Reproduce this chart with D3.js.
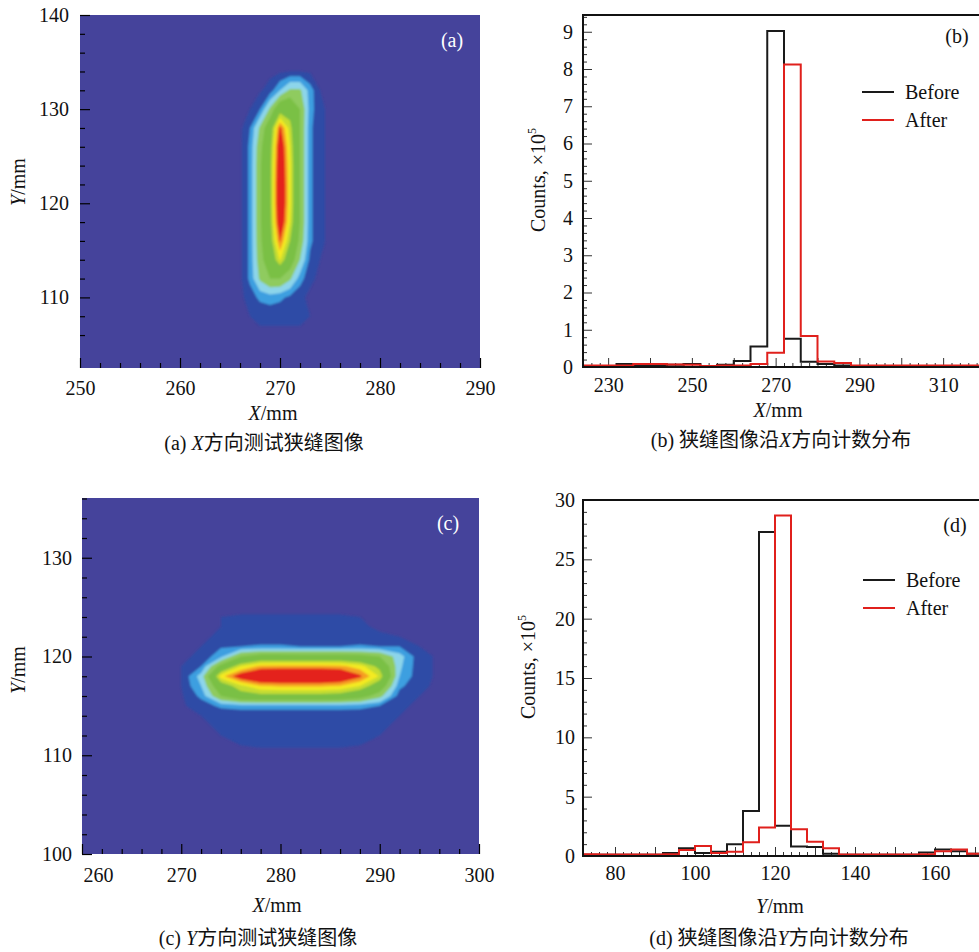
<!DOCTYPE html>
<html>
<head>
<meta charset="utf-8">
<script src="https://cdn.jsdelivr.net/npm/d3@7"></script>
<style>
  body { margin: 0; background: #fff; }
  svg text { font-family: "Liberation Serif", "Times New Roman", "Noto Sans CJK SC", serif; fill: #111; }
</style>
</head>
<body>
<svg id="fig" width="979" height="952"></svg>
<script>
// ---- data ----
// contour levels (relative intensity) and band colours
const levels = [3, 10, 18, 28, 40, 62, 70, 78, 85];
const levelColors = ["#2d4ca6", "#3c9fe0", "#8dd5ea", "#8fcb5e", "#7ac044", "#c4dc31", "#f4ea20", "#f5a024", "#e4221c"];
const bgColor = "#45439b";

// (a) slit along X : grid columns X (mm), rows Y (mm, top to bottom)
const slitXcols = [265, 266, 267, 268, 269, 270, 271, 272, 273, 274, 275, 276];
const slitXrows = [136, 134, 132, 130, 128, 126, 124, 122, 120, 118, 116, 114, 112, 110, 108, 106, 104];
const slitXgrid = [
  [0, 0, 0, 0, 0, 0, 0, 0, 0, 0, 0, 0],
  [0, 0, 0, 0, 1, 2, 3, 3, 2, 1, 0, 0],
  [0, 0, 0, 2, 6, 18, 30, 30, 14, 3, 1, 0],
  [0, 1, 3, 10, 30, 55, 56, 40, 14, 4, 2, 0],
  [0, 1, 10, 30, 52, 88, 66, 40, 12, 4, 2, 0],
  [0, 1, 12, 36, 56, 96, 70, 40, 12, 4, 2, 0],
  [0, 1, 12, 38, 58, 98, 72, 40, 12, 4, 2, 0],
  [0, 1, 12, 38, 58, 100, 72, 40, 12, 4, 2, 0],
  [0, 1, 12, 38, 58, 100, 72, 40, 12, 4, 2, 0],
  [0, 1, 12, 38, 57, 97, 70, 40, 12, 4, 2, 0],
  [0, 1, 12, 37, 55, 86, 62, 36, 12, 4, 2, 0],
  [0, 1, 12, 35, 50, 71, 50, 28, 8, 3, 1, 0],
  [0, 1, 12, 30, 40, 40, 30, 14, 4, 2, 1, 0],
  [0, 1, 6, 12, 14, 12, 8, 4, 2, 1, 1, 0],
  [0, 1, 3, 4, 4, 4, 4, 4, 3, 2, 1, 0],
  [0, 0, 1, 2, 2, 2, 2, 2, 1, 0, 0, 0],
  [0, 0, 0, 0, 0, 0, 0, 0, 0, 0, 0, 0]
];

// (c) slit along Y
const slitYcols = [270, 272, 274, 276, 278, 280, 282, 284, 286, 288, 290, 292, 294, 296];
const slitYrows = [124, 123, 122, 121, 120, 119, 118, 117, 116, 115, 114, 113, 112, 111];
const slitYgrid = [
  [0, 1, 3, 4, 4, 4, 4, 4, 4, 3, 1, 0, 0, 0],
  [0, 1, 3, 5, 5, 5, 5, 5, 5, 4, 2, 1, 0, 0],
  [0, 2, 4, 6, 6, 6, 6, 6, 6, 6, 4, 3, 1, 0],
  [1, 3, 9, 10, 11, 11, 10, 10, 10, 11, 10, 10, 3, 1],
  [2, 4, 16, 40, 48, 48, 48, 48, 48, 46, 40, 22, 5, 2],
  [3, 10, 46, 70, 80, 81, 81, 81, 80, 74, 58, 20, 5, 2],
  [3, 22, 75, 92, 100, 100, 100, 100, 98, 87, 69, 18, 5, 2],
  [3, 18, 54, 68, 77, 79, 79, 79, 77, 70, 52, 12, 4, 2],
  [2, 12, 40, 56, 58, 58, 58, 58, 56, 48, 32, 6, 3, 1],
  [2, 6, 12, 14, 14, 14, 14, 14, 14, 13, 10, 4, 2, 1],
  [1, 3, 4, 4, 4, 4, 4, 4, 4, 4, 4, 3, 1, 0],
  [0, 2, 4, 5, 5, 5, 5, 5, 5, 5, 4, 2, 1, 0],
  [0, 1, 3, 4, 4, 4, 4, 4, 4, 4, 3, 1, 0, 0],
  [0, 0, 2, 3, 4, 4, 4, 4, 4, 3, 2, 0, 0, 0]
];

// (b) counts along X, x1e5, bins of 4 mm (left edges)
const binWidth = 4;
const binsB = [224, 228, 232, 236, 240, 244, 248, 252, 256, 260, 264, 268, 272, 276, 280, 284, 288, 292, 296, 300, 304, 308, 312, 316];
const beforeB = [0.03, 0.03, 0.08, 0.05, 0.05, 0.06, 0.08, 0.02, 0.06, 0.16, 0.55, 9.02, 0.76, 0.14, 0.08, 0.04, 0.02, 0.02, 0.02, 0.02, 0.02, 0.02, 0.02, 0.02];
const afterB = [0.04, 0.04, 0.04, 0.08, 0.08, 0.07, 0.06, 0.03, 0.04, 0.04, 0.08, 0.38, 8.12, 0.83, 0.15, 0.11, 0.04, 0.04, 0.04, 0.04, 0.04, 0.04, 0.04, 0.04];

// (d) counts along Y, x1e5
const binsD = [72, 76, 80, 84, 88, 92, 96, 100, 104, 108, 112, 116, 120, 124, 128, 132, 136, 140, 144, 148, 152, 156, 160, 164, 168];
const beforeD = [0.1, 0.1, 0.1, 0.1, 0.1, 0.25, 0.65, 0.25, 0.35, 1.0, 3.8, 27.3, 2.55, 0.8, 0.75, 0.2, 0.1, 0.1, 0.1, 0.1, 0.1, 0.3, 0.55, 0.4, 0.2];
const afterD = [0.15, 0.12, 0.12, 0.12, 0.12, 0.15, 0.5, 0.85, 0.25, 0.35, 1.15, 2.4, 28.7, 2.25, 1.2, 0.65, 0.12, 0.12, 0.12, 0.12, 0.12, 0.15, 0.4, 0.55, 0.2];

const xTicksA = [250, 260, 270, 280, 290];
const yTicksA = [110, 120, 130, 140];
const xTicksC = [260, 270, 280, 290, 300];
const yTicksC = [100, 110, 120, 130];
const xLabelsB = [230, 250, 270, 290, 310];
const yTicksB = [0, 1, 2, 3, 4, 5, 6, 7, 8, 9];
const xLabelsD = [80, 100, 120, 140, 160];
const yTicksD = [0, 5, 10, 15, 20, 25, 30];

const svg = d3.select("#fig");
const defs = svg.append("defs");
defs.append("filter").attr("id", "soft")
  .append("feGaussianBlur").attr("stdDeviation", 0.9);

// ---- helpers ----
function tickAxis(g, axisFn, scale, vals, len, fmt, pad) {
  g.call(axisFn(scale).tickValues(vals).tickSizeInner(-len).tickSizeOuter(0)
      .tickPadding(pad).tickFormat(fmt));
  g.select(".domain").remove();
  g.attr("font-family", null).attr("font-size", 20);
  g.selectAll(".tick line").attr("stroke", "#000").attr("stroke-width", 1.2);
}

function contourPanel(id, x, y, cols, rows, grid) {
  const [x0, x1] = x.range(), [y0, y1] = y.range();
  defs.append("clipPath").attr("id", "clip" + id)
    .append("rect").attr("x", x0).attr("y", y1).attr("width", x1 - x0).attr("height", y0 - y1);
  const g = svg.append("g").attr("clip-path", `url(#clip${id})`);
  g.append("rect").attr("x", x0).attr("y", y1).attr("width", x1 - x0).attr("height", y0 - y1)
    .attr("fill", bgColor);

  // pad the grid with a ring of zeros so every contour closes
  const nx = cols.length + 2, ny = rows.length + 2;
  const dx = cols[1] - cols[0], dy = rows[0] - rows[1];
  const values = new Array(nx * ny).fill(0);
  grid.forEach((r, j) => r.forEach((v, i) => { values[(j + 1) * nx + i + 1] = v; }));
  const contours = d3.contours().size([nx, ny]).thresholds(levels)(values);
  const proj = d3.geoTransform({
    point: function(cx, cy) {
      this.stream.point(x(cols[0] + (cx - 1.5) * dx), y(rows[0] - (cy - 1.5) * dy));
    }
  });
  g.append("g").attr("filter", "url(#soft)")
    .selectAll("path").data(contours).join("path")
    .attr("d", d3.geoPath(proj))
    .attr("fill", (d, i) => levelColors[i]);
}

function heatAxes(x, y, xMaj, yMaj, yMinFrom, xPad, yPad) {
  const xmin = d3.range(x.domain()[0], x.domain()[1] + 0.01, 2).filter(v => v % 10 !== 0);
  const ymin = d3.range(yMinFrom, y.domain()[1] + 0.01, 2).filter(v => v % 10 !== 0);
  const gx = svg.append("g").attr("transform", `translate(0,${y.range()[0]})`);
  tickAxis(gx, d3.axisBottom, x, xmin, 5, "", xPad);
  const gx2 = svg.append("g").attr("transform", `translate(0,${y.range()[0]})`);
  tickAxis(gx2, d3.axisBottom, x, xMaj, 10, d3.format("d"), xPad);
  const gy = svg.append("g").attr("transform", `translate(${x.range()[0]},0)`);
  tickAxis(gy, d3.axisLeft, y, ymin, 5, "", yPad);
  const gy2 = svg.append("g").attr("transform", `translate(${x.range()[0]},0)`);
  tickAxis(gy2, d3.axisLeft, y, yMaj, 10, d3.format("d"), yPad);
  return gx2;
}

function histPanel(x, y, bins, before, after, xLab, xMajStep, xMinStep, yMaj, yMinStep, xPad, yPad) {
  const [x0] = x.range(), [yb, yt] = y.range();
  const g = svg.append("g");
  const line = d3.line().x(d => x(d[0])).y(d => y(d[1])).curve(d3.curveStepAfter);
  const pts = vals => {
    const p = bins.map((b, i) => [b, vals[i]]);
    p.push([bins[bins.length - 1] + binWidth, vals[vals.length - 1]]);
    return p;
  };
  // ticks
  const d0 = x.domain()[0], d1 = x.domain()[1];
  const xminor = d3.range(Math.ceil(d0 / xMinStep) * xMinStep, d1, xMinStep).filter(v => v % xMajStep !== 0);
  const xmajor = d3.range(Math.ceil(d0 / xMajStep) * xMajStep, d1, xMajStep);
  const yminor = d3.range(0, y.domain()[1], yMinStep).map(v => +v.toFixed(2))
    .filter(v => Math.abs(v / yMaj[1] - Math.round(v / yMaj[1])) > 1e-6);
  const gx = g.append("g").attr("transform", `translate(0,${yb})`);
  tickAxis(gx, d3.axisBottom, x, xminor, 4, "", xPad);
  const gx2 = g.append("g").attr("transform", `translate(0,${yb})`);
  tickAxis(gx2, d3.axisBottom, x, xmajor, 9, v => xLab.includes(v) ? v : "", xPad);
  const gy = g.append("g").attr("transform", `translate(${x0},0)`);
  tickAxis(gy, d3.axisLeft, y, yminor, 4, "", yPad);
  const gy2 = g.append("g").attr("transform", `translate(${x0},0)`);
  tickAxis(gy2, d3.axisLeft, y, yMaj, 9, d3.format("d"), yPad);
  g.selectAll(".tick line").attr("stroke", "#333").attr("stroke-width", 1);

  g.append("path").attr("d", line(pts(before))).attr("fill", "none")
    .attr("stroke", "#1a1a1a").attr("stroke-width", 2);
  g.append("path").attr("d", line(pts(after))).attr("fill", "none")
    .attr("stroke", "#e0201c").attr("stroke-width", 2);
  // frame (right side lies outside the picture)
  g.append("path").attr("d", `M1000,${yt}H${x0}V${yb}H1000`)
    .attr("fill", "none").attr("stroke", "#111").attr("stroke-width", 2);
}

function text(x, y, parts, opts = {}) {
  const t = svg.append("text").attr("x", x).attr("y", y)
    .attr("font-size", opts.size || 20).attr("text-anchor", opts.anchor || "middle");
  if (opts.rotate) t.attr("transform", `rotate(-90,${x},${y})`);
  if (opts.fill) t.style("fill", opts.fill);
  if (opts.weight) t.attr("font-weight", opts.weight);
  parts.forEach(p => {
    const s = t.append("tspan").text(p.t);
    if (p.i) s.attr("font-style", "italic");
    if (p.sup) s.attr("font-size", 12).attr("dy", -9);
  });
  return t;
}

function legend(x, y) {
  [["Before", "#1a1a1a"], ["After", "#e0201c"]].forEach(([name, c], i) => {
    svg.append("line").attr("x1", x).attr("x2", x + 32).attr("y1", y + i * 28).attr("y2", y + i * 28)
      .attr("stroke", c).attr("stroke-width", 2);
    text(x + 43, y + i * 28 + 7, [{t: name}], {anchor: "start"});
  });
}

// ---- (a) ----
const xa = d3.scaleLinear().domain([250, 290]).range([80, 480]);
const ya = d3.scaleLinear().domain([102.5, 140]).range([368, 15]);
contourPanel("a", xa, ya, slitXcols, slitXrows, slitXgrid);
heatAxes(xa, ya, xTicksA, yTicksA, 106, 13, 11);
text(452, 47, [{t: "(a)"}], {fill: "#fff", size: 20});
text(273, 420, [{t: "X", i: true}, {t: "/mm"}]);
text(25, 182, [{t: "Y", i: true}, {t: "/mm"}], {rotate: true});
text(264, 450, [{t: "(a) "}, {t: "X", i: true}, {t: "方向测试狭缝图像"}]);

// ---- (c) ----
const xc = d3.scaleLinear().domain([260, 300]).range([82, 479]);
const yc = d3.scaleLinear().domain([100, 136.05]).range([854, 498]);
contourPanel("c", xc, yc, slitYcols, slitYrows, slitYgrid);
const gxc = heatAxes(xc, yc, xTicksC, yTicksC, 100, 14, 10);
gxc.selectAll(".tick text").filter(d => d === 260).attr("dx", 16);
text(448, 530, [{t: "(c)"}], {fill: "#fff", size: 20});
text(277, 912, [{t: "X", i: true}, {t: "/mm"}]);
text(25, 670, [{t: "Y", i: true}, {t: "/mm"}], {rotate: true});
text(258, 945, [{t: "(c)  "}, {t: "Y", i: true}, {t: "方向测试狭缝图像"}]);

// ---- (b) ----
const xb = d3.scaleLinear().domain([224, 320]).range([583, 985]);
const yb = d3.scaleLinear().domain([0, 9.45]).range([367, 15]);
histPanel(xb, yb, binsB, beforeB, afterB, xLabelsB, 10, 2, yTicksB, 0.2, 11, 10);
legend(862, 92);
text(957, 43, [{t: "(b)"}]);
text(778, 417, [{t: "X", i: true}, {t: "/mm"}]);
text(545, 180, [{t: "Counts, ×10"}, {t: "5", sup: true}], {rotate: true});
text(781, 447, [{t: "(b)  狭缝图像沿"}, {t: "X", i: true}, {t: "方向计数分布"}]);

// ---- (d) ----
const xd = d3.scaleLinear().domain([72, 172]).range([583, 983]);
const yd = d3.scaleLinear().domain([0, 30]).range([856, 500]);
histPanel(xd, yd, binsD, beforeD, afterD, xLabelsD, 10, 2, yTicksD, 1, 10, 8);
legend(863, 580);
text(955, 532, [{t: "(d)"}]);
text(780, 913, [{t: "Y", i: true}, {t: "/mm"}]);
text(535, 667, [{t: "Counts, ×10"}, {t: "5", sup: true}], {rotate: true});
text(779, 945, [{t: "(d) 狭缝图像沿"}, {t: "Y", i: true}, {t: "方向计数分布"}]);
</script>
</body>
</html>
